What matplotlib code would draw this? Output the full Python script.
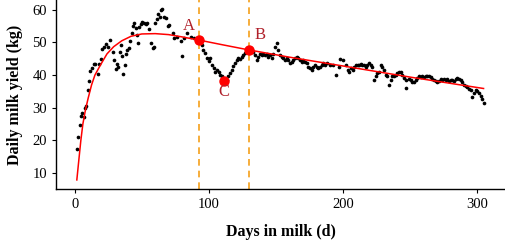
import numpy as np
import matplotlib
matplotlib.use("Agg")
import matplotlib.pyplot as plt

plt.rcParams['font.family'] = ['Liberation Serif', 'DejaVu Serif']

days = [1.5, 2.5, 3.5, 4.5, 5.4, 6.5, 7.5, 8.4, 9.5, 10.4, 11.4, 12.5, 14, 15.4, 17, 18, 19.4,
        20.4, 22, 23.6, 25, 26.3, 28.4, 29.3, 30.4, 31.4, 32.4, 33.4, 34.3, 35.3, 36.3, 37.3,
        38.3, 39.3, 40.3, 41.3, 42.3, 43.3, 44.3, 45.3, 46.3, 47.2, 48.2, 49.2, 50.2, 51.7,
        53.2, 54.2, 55.7, 57.2, 58.2, 59.2, 60.2, 61.2, 62.2, 63.7, 64.2, 65.2, 66.7, 68,
        69.7, 70.4, 72.9, 74, 76.5, 79, 80.3, 81.5, 84, 86.5, 89, 91.4,
        94.8, 96, 97.4, 98.7, 99.9, 101, 102.4, 103.6, 104.9, 106, 107.4, 108.6, 109.9,
        113.4, 114.6, 115.9, 117.1, 118.4, 119.6, 120.9, 122.1, 123.3, 124.6, 125.8, 127.1, 128.3,
        132, 133.2, 134.5, 135.8, 137, 138.2, 139.5, 140.7, 142, 143.2, 144.5, 145.7, 147,
        148.2, 149.4, 150.7, 151.9, 153.1, 154.4, 155.6, 156.9, 158.1, 159.3, 160.6, 161.8,
        163.1, 164.3, 165.5, 166.8, 168, 169.3, 170.5, 171.7, 173, 174.2, 175.5, 176.7, 178,
        179.2, 180.4, 181.7, 182.9, 184.2, 185.4, 186.6, 187.9, 190.4, 192.9, 195, 197, 198,
        200, 202, 203.5, 204.8, 206, 207.3, 208.5, 209.7, 211, 212, 213.3, 214.5, 215.7, 217,
        218.2, 219.5, 220.7, 222, 223.2, 224.5, 225.7, 227, 228.2, 229.5, 230.7, 232, 233.2,
        234.5, 235.7, 237, 238.2, 239.4, 240.7, 241.9, 243.2, 244.4, 245.7, 246.9, 247.4, 249.4,
        250.7, 251.9, 253.2, 254.4, 255.7, 256.9, 258.1, 259.4, 260.6, 261.9, 263.1, 264.4,
        265.6, 266.8, 268.1, 269.3, 270.6, 271.8, 273.1, 274.3, 275.5, 276.8, 278, 279.3,
        280.5, 281.8, 283, 284.2, 285.5, 286.7, 288, 289.2, 290.5, 291.7, 293, 294.2, 295.4,
        296.7, 297.9, 299.2, 300.4, 301.7, 302.9, 304.1, 305.4]
yields = [17.3, 21.1, 24.7, 27.5, 28.4, 27.3, 30, 30.6, 35.5, 38.3, 41.4, 42.1, 43.4, 43.4, 40.4, 43.4, 44.9,
          48, 48.7, 49.4, 48.7, 50.6, 47.2, 44.7, 41.8, 43.4, 42.5, 47.2, 49.3, 46, 40.4, 43,
          46.6, 47.7, 48.4, 50.3, 52.8, 55.1, 55.9, 54.4, 52.3, 49.8, 54.6, 55.7, 56.3, 56.1,
          55.7, 55.9, 54, 49.8, 48.4, 48.6, 56.1, 57.1, 58.8, 57.9, 60, 60.2, 57.9, 57.5,
          55.1, 55.4, 52.8, 51.3, 51.6, 50.3, 45.7, 51.3, 52.8, 51.6, 51.3, 50.3,
          49.3, 47.7, 46.7, 45.2, 44.2, 45.2, 43.1, 42.1, 41.1, 41.6, 41.1, 40.1, 39.6,
          38.5, 39.6, 40.6, 41.6, 42.8, 43.6, 44.6, 45.1, 44.8, 45.4, 46.1, 46.8, 47.6,
          47.6, 47.1, 46.1, 44.7, 45.6, 46.6, 46.1, 46.6, 46.1, 46.6, 45.6, 46.1, 45.1,
          46.6, 48.7, 49.8, 47.6, 46.1, 45.6, 45.1, 44.6, 45.1, 44.6, 43.6, 44,
          44.6, 45.1, 45.6, 45.1, 44.6, 44, 44.6, 44, 43.6, 42.6, 42.1, 41.6, 42.6,
          43.1, 42.6, 42.1, 42.6, 43.1, 43.6, 43.1, 43.6, 43.1, 43.1, 40.1, 42.6, 44.9,
          44.6, 43.1, 41.6, 41.1, 42.1, 41.6, 42.6, 43.1, 43.1, 43.1, 43.4, 43.1, 43.1, 42.6,
          43.1, 43.6, 43.1, 42.6, 38.5, 39.6, 40.6, 41.1, 43.1, 42.6, 41.6, 40.1, 39.6,
          37, 38.5, 39.6, 39.6, 40.1, 40.6, 40.8, 41.1, 40.1, 39.1, 38.5, 36, 38.8,
          38.5, 38, 38, 38.5, 39.1, 39.6, 39.4, 39.6, 39.4, 39.6, 39.8, 39.6,
          39.3, 38.9, 38.5, 38.2, 38, 38.3, 38.7, 38.5, 38.7, 38.5, 38.7, 38.2,
          38.5, 38.5, 38.2, 38.9, 39.2, 38.7, 38.5, 38, 37, 36.7, 36.3, 35.7, 35.5,
          33.2, 34.5, 35.5, 35, 34.5, 33.5, 32.7, 31.4]

# fitted lactation curve
fit_days = [1.5, 3, 4.5, 6, 8, 10, 12.5, 15, 19, 24, 29, 35, 42, 50, 60, 70, 80, 93,
            110, 130, 160, 200, 250, 305]
fit_yield = [7.9, 14, 20, 25, 29.5, 33, 37, 40, 43, 46.5, 48.7, 50.5, 51.9, 52.6, 52.7,
             52.4, 51.7, 50.7, 49.3, 47.7, 45.5, 42.8, 39.4, 35.9]

# key points
pt_names = ['A', 'B', 'C']
pt_days = [93, 130, 111]
pt_yield = [50.8, 47.7, 38.3]
lbl_days = [85, 138.5, 111]
lbl_yield = [55.0, 52.3, 34.9]

fig = plt.figure(figsize=(5.05, 2.43), dpi=100)
ax = fig.add_axes([0.111, 0.222, 0.889, 0.778])

ax.scatter(days, yields, s=7, c='black', linewidths=0, zorder=3)
ax.plot(fit_days, fit_yield, color='red', lw=1.1, zorder=4)
for d in [pt_days[0], pt_days[1]]:
    ax.axvline(d, color='#F5A01A', lw=1.2, ls=(0, (4, 3)), zorder=2)
ax.plot(pt_days, pt_yield, 'o', color='red', ms=6.5, zorder=5)
for n, x, y in zip(pt_names, lbl_days, lbl_yield):
    ax.text(x, y, n, color='#B0202A', fontsize=12, ha='center', va='center', zorder=6)

ax.set_xlim(-14, 321)
ax.set_ylim(5.1, 63)
ax.set_xticks([0, 100, 200, 300])
ax.set_yticks([10, 20, 30, 40, 50, 60])
ax.spines['top'].set_visible(False)
ax.spines['right'].set_visible(False)
ax.spines['left'].set_linewidth(1.0)
ax.spines['bottom'].set_linewidth(1.0)
ax.tick_params(labelsize=10.5, length=3, width=0.8)
ax.set_xlabel('Days in milk (d)', fontsize=11.5, fontweight='bold', labelpad=9)
ax.set_ylabel('Daily milk yield (kg)', fontsize=11.5, fontweight='bold', labelpad=7)

fig.savefig('out.png', dpi=100)
